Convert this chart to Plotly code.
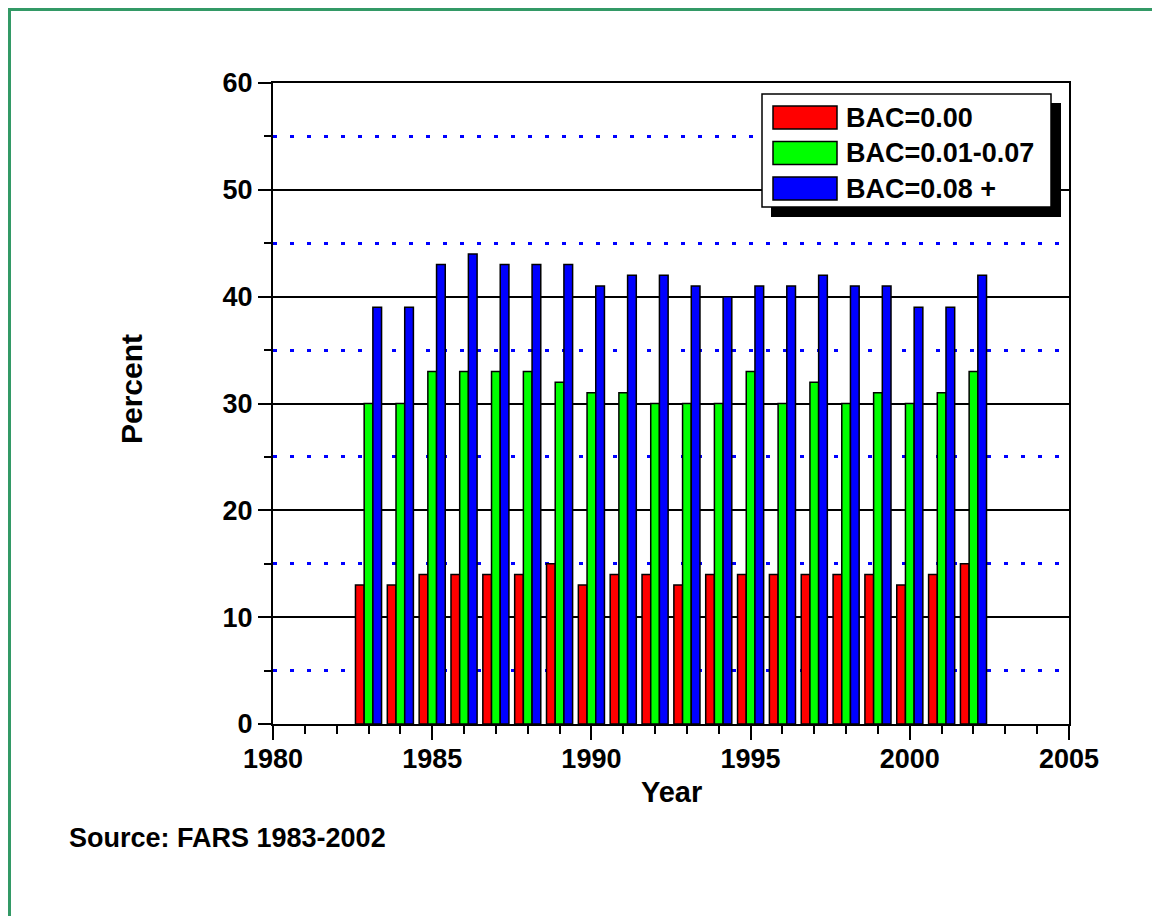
import plotly.graph_objects as go

years = list(range(1983, 2003))
bac_000 = [13, 13, 14, 14, 14, 14, 15, 13, 14, 14, 13, 14, 14, 14, 14, 14, 14, 13, 14, 15]
bac_001_007 = [30, 30, 33, 33, 33, 33, 32, 31, 31, 30, 30, 30, 33, 30, 32, 30, 31, 30, 31, 33]
bac_008_plus = [39, 39, 43, 44, 43, 43, 43, 41, 42, 42, 41, 40, 41, 41, 42, 41, 41, 39, 39, 42]
series_names = ["BAC=0.00", "BAC=0.01-0.07", "BAC=0.08 +"]
series_colors = ["#FF0000", "#00FF00", "#0000FF"]

# page offset (default body margin) -- all pixel constants below are page coordinates
OFF = 8
W, H = 1160 - 2 * OFF, 924 - 2 * OFF
L, R, T, B = 273 - OFF, 1069 - OFF, 83 - OFF, 724 - OFF

def px_x(px):
    return (px - OFF - L) / (R - L)

def px_y(py):
    return (B - (py - OFF)) / (B - T)

FONT = "Liberation Sans, Arial, sans-serif"
BORDER = "#339966"

fig = go.Figure()
for name, vals, col in zip(series_names, [bac_000, bac_001_007, bac_008_plus], series_colors):
    fig.add_trace(go.Bar(
        x=years, y=vals, name=name,
        marker=dict(color=col, line=dict(color="black", width=1.5)),
        showlegend=False,
    ))

shapes = []
# outer green border (only left and top edges are visible)
shapes.append(dict(type="line", xref="paper", yref="paper",
                   x0=px_x(OFF + 1.5), x1=px_x(OFF + 1.5), y0=px_y(924), y1=px_y(OFF),
                   line=dict(color=BORDER, width=3), layer="above"))
shapes.append(dict(type="line", xref="paper", yref="paper",
                   x0=px_x(OFF), x1=px_x(1160), y0=px_y(OFF + 1.5), y1=px_y(OFF + 1.5),
                   line=dict(color=BORDER, width=3), layer="above"))
# legend shadow + box
shapes.append(dict(type="rect", xref="paper", yref="paper",
                   x0=px_x(771), x1=px_x(1061), y0=px_y(217), y1=px_y(103),
                   line=dict(color="black", width=0), fillcolor="black", layer="above"))
shapes.append(dict(type="rect", xref="paper", yref="paper",
                   x0=px_x(762), x1=px_x(1051), y0=px_y(207), y1=px_y(94),
                   line=dict(color="black", width=1.5), fillcolor="white", layer="above"))

annotations = []
row_centers = [117.5, 153, 188.5]
for name, col, yc in zip(series_names, series_colors, row_centers):
    shapes.append(dict(type="rect", xref="paper", yref="paper",
                       x0=px_x(773), x1=px_x(837), y0=px_y(yc + 11.5), y1=px_y(yc - 11.5),
                       line=dict(color="black", width=1.5), fillcolor=col, layer="above"))
    annotations.append(dict(x=px_x(844), y=px_y(yc), xref="paper", yref="paper",
                            text=name, showarrow=False, xanchor="left", yanchor="middle",
                            font=dict(family=FONT, size=27, color="black", weight="bold")))

annotations.append(dict(x=px_x(132), y=px_y(389), xref="paper", yref="paper",
                        text="Percent", showarrow=False, textangle=-90,
                        xanchor="center", yanchor="middle",
                        font=dict(family=FONT, size=30, color="black", weight="bold")))
annotations.append(dict(x=px_x(671), y=px_y(792), xref="paper", yref="paper",
                        text="Year", showarrow=False,
                        xanchor="center", yanchor="middle",
                        font=dict(family=FONT, size=29, color="black", weight="bold")))
annotations.append(dict(x=px_x(67), y=px_y(838), xref="paper", yref="paper",
                        text="Source: FARS 1983-2002", showarrow=False,
                        xanchor="left", yanchor="middle",
                        font=dict(family=FONT, size=27, color="black", weight="bold")))

tickfont = dict(family=FONT, size=27, color="black", weight="bold")

fig.update_layout(
    width=W, height=H,
    margin=dict(l=L, r=W - R, t=T, b=H - B, pad=0),
    paper_bgcolor="white", plot_bgcolor="white",
    barmode="group", bargap=0.18, bargroupgap=0,
    shapes=shapes, annotations=annotations,
    xaxis=dict(
        range=[1980, 2005], tick0=1980, dtick=5,
        ticks="outside", ticklen=14, tickwidth=2, tickcolor="black",
        showline=True, linecolor="black", linewidth=2, mirror=True,
        showgrid=False, zeroline=False, tickfont=tickfont,
        ticklabelstandoff=-4,
        minor=dict(dtick=1, ticks="outside", ticklen=8, tickwidth=2,
                   tickcolor="black", showgrid=False),
    ),
    yaxis=dict(
        range=[0, 60], tick0=0, dtick=10,
        ticks="outside", ticklen=13, tickwidth=2, tickcolor="black",
        showline=True, linecolor="black", linewidth=2, mirror=True,
        showgrid=True, gridcolor="black", gridwidth=1.5,
        zeroline=False, tickfont=tickfont,
        minor=dict(tick0=5, dtick=10, ticks="outside", ticklen=7, tickwidth=2,
                   tickcolor="black", showgrid=True, gridcolor="#0000FF",
                   gridwidth=3, griddash="4px,13px"),
    ),
)

fig.write_html("out.html")
